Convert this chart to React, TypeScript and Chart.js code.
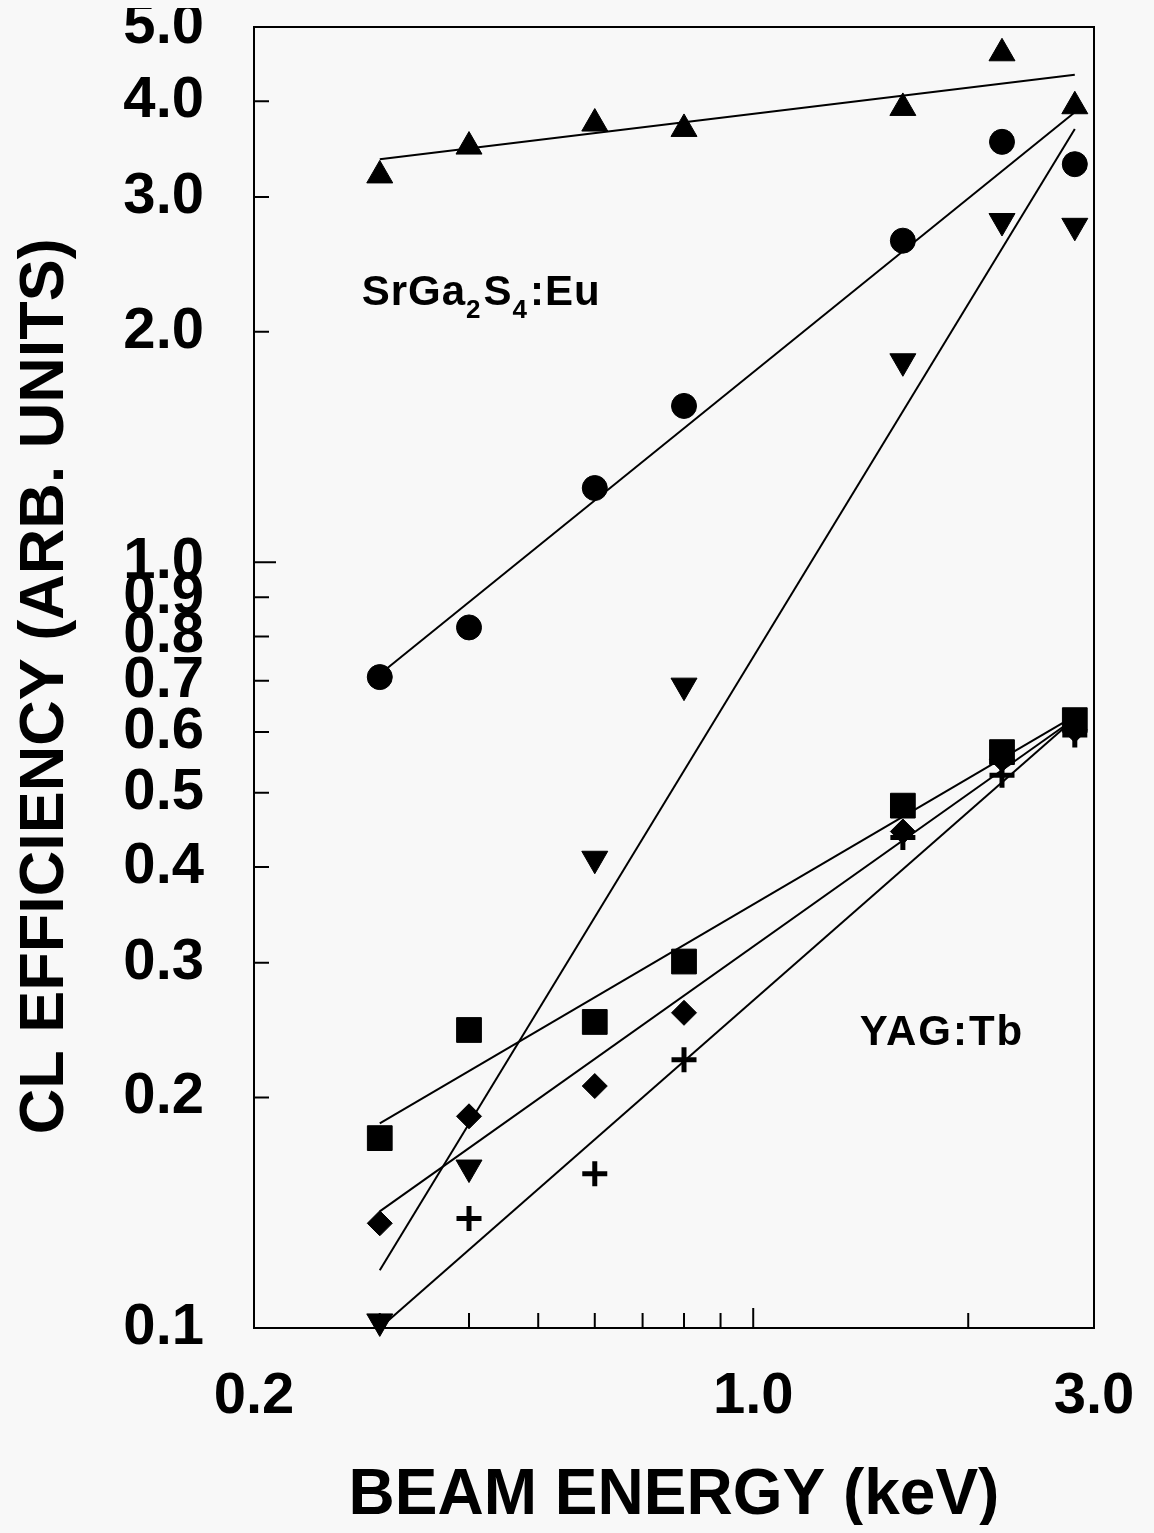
import React, { useEffect, useRef } from 'react';
import { Chart, registerables } from 'chart.js';

Chart.register(...registerables);

// Beam energies (keV)
const energies = [0.3, 0.4, 0.6, 0.8, 1.62, 2.23, 2.82];

// SrGa2S4:Eu series
const upTriangle = [3.2, 3.49, 3.74, 3.68, 3.92, 4.62, 3.94];
const circle = [0.708, 0.822, 1.25, 1.6, 2.63, 3.54, 3.31];
const downTriangle = [0.102, 0.162, 0.41, 0.69, 1.83, 2.79, 2.75];

// YAG:Tb series
const square = [0.177, 0.245, 0.251, 0.301, 0.481, 0.565, 0.622];
const diamond = [0.137, 0.189, 0.207, 0.258, 0.445, 0.553, 0.604];
const plus = [null, 0.139, 0.159, 0.224, 0.437, 0.527, 0.595];

// Fitted lines: values at the first and last energy
const fitX = [0.3, 2.82];
const upFit = [3.36, 4.33];
const circleFit = [0.714, 3.87];
const downFit = [0.119, 3.68];
const squareFit = [0.185, 0.63];
const diamondFit = [0.142, 0.625];
const plusFit = [0.1, 0.625];

// Axis ticks
const xTickLabels = [0.2, 1.0, 3.0];
const xTickMarks = [0.3, 0.4, 0.5, 0.6, 0.7, 0.8, 0.9, 1.0, 2.0];
const yTickLabels = [0.1, 0.2, 0.3, 0.4, 0.5, 0.6, 0.7, 0.8, 0.9, 1.0, 2.0, 3.0, 4.0, 5.0];
const yTickMarks = [0.2, 0.3, 0.4, 0.5, 0.6, 0.7, 0.8, 0.9, 1.0, 2.0, 3.0, 4.0];

// Annotation anchors (data coordinates, left / baseline)
const srLabelAnchor = { x: 0.283, y: 2.17 };
const yagLabelAnchor = { x: 1.41, y: 0.234 };

const FONT = "'Liberation Sans', Arial, Helvetica, sans-serif";
const BG = '#f8f8f8';

function pts(xs: number[], ys: (number | null)[]) {
  const out: { x: number; y: number }[] = [];
  xs.forEach((x, i) => {
    const y = ys[i];
    if (y !== null && y !== undefined) out.push({ x, y });
  });
  return out;
}

function pointSet(label: string, ys: (number | null)[], style: string, radius: number, extra: any = {}) {
  return {
    label,
    data: pts(energies, ys),
    showLine: false,
    pointStyle: style,
    pointRadius: radius,
    pointHoverRadius: radius,
    pointBackgroundColor: '#000',
    pointBorderColor: '#000',
    pointBorderWidth: 1,
    clip: false,
    ...extra,
  };
}

function fitSet(label: string, ys: number[]) {
  return {
    label,
    data: pts(fitX, ys),
    showLine: true,
    borderColor: '#000',
    borderWidth: 2,
    pointRadius: 0,
    pointHoverRadius: 0,
    fill: false,
    tension: 0,
  };
}

const framePlugin = {
  id: 'frame',
  beforeDraw(chart: any) {
    const { ctx, width, height } = chart;
    ctx.save();
    ctx.fillStyle = BG;
    ctx.fillRect(0, 0, width, height);
    ctx.restore();
  },
  beforeDatasetsDraw(chart: any) {
    const { ctx, chartArea, scales } = chart;
    const { left, right, top, bottom } = chartArea;
    ctx.save();
    ctx.strokeStyle = '#000';
    ctx.lineWidth = 2;
    ctx.strokeRect(left, top, right - left, bottom - top);
    ctx.beginPath();
    for (const v of xTickMarks) {
      const px = scales.x.getPixelForValue(v);
      const len = v === 1 ? 20 : 15;
      ctx.moveTo(px, bottom);
      ctx.lineTo(px, bottom - len);
    }
    for (const v of yTickMarks) {
      const py = scales.y.getPixelForValue(v);
      const len = v === 1 ? 22 : 15;
      ctx.moveTo(left, py);
      ctx.lineTo(left + len, py);
    }
    ctx.stroke();
    ctx.restore();
  },
  afterDatasetsDraw(chart: any) {
    const { ctx, scales } = chart;
    ctx.save();
    ctx.fillStyle = '#000';
    ctx.textBaseline = 'alphabetic';
    ctx.textAlign = 'left';
    (ctx as any).letterSpacing = '1px';
    const mainFont = `bold 42px ${FONT}`;
    const subFont = `bold 26px ${FONT}`;
    const parts = [
      { t: 'SrGa', sub: false },
      { t: '2', sub: true },
      { t: 'S', sub: false },
      { t: '4', sub: true },
      { t: ':Eu', sub: false },
    ];
    let x = scales.x.getPixelForValue(srLabelAnchor.x);
    const y = scales.y.getPixelForValue(srLabelAnchor.y);
    for (const p of parts) {
      ctx.font = p.sub ? subFont : mainFont;
      ctx.fillText(p.t, x, p.sub ? y + 13 : y);
      x += ctx.measureText(p.t).width + (p.sub ? 2 : 0);
    }
    (ctx as any).letterSpacing = '2px';
    ctx.font = mainFont;
    ctx.fillText(
      'YAG:Tb',
      scales.x.getPixelForValue(yagLabelAnchor.x),
      scales.y.getPixelForValue(yagLabelAnchor.y)
    );
    ctx.restore();
  },
};

const tickFont = { family: FONT, size: 58, weight: 'bold' as const, lineHeight: 1.2 };

function zeroPad(s: any) {
  s.paddingLeft = 0;
  s.paddingRight = 0;
  s.paddingTop = 0;
  s.paddingBottom = 0;
}

export default function App() {
  const ref = useRef<HTMLCanvasElement | null>(null);

  useEffect(() => {
    document.body.style.background = BG;
    const canvas = ref.current;
    if (!canvas) return;
    const chart = new Chart(canvas, {
      type: 'scatter',
      data: {
        datasets: [
          fitSet('fit up', upFit),
          fitSet('fit circle', circleFit),
          fitSet('fit down', downFit),
          fitSet('fit square', squareFit),
          fitSet('fit diamond', diamondFit),
          fitSet('fit plus', plusFit),
          pointSet('up triangle', upTriangle, 'triangle', 15),
          pointSet('circle', circle, 'circle', 12.5),
          pointSet('down triangle', downTriangle, 'triangle', 15, { pointRotation: 180 }),
          pointSet('square', square, 'rect', 17.5),
          pointSet('diamond', diamond, 'rectRot', 12.5),
          pointSet('plus', plus, 'cross', 12.5, { pointBorderWidth: 5 }),
        ] as any,
      },
      options: {
        responsive: false,
        animation: false,
        events: [],
        layout: { padding: { top: 27, right: 52, bottom: 0, left: 0 } },
        plugins: {
          legend: { display: false },
          tooltip: { enabled: false },
          title: { display: false },
        },
        scales: {
          x: {
            type: 'logarithmic',
            position: 'bottom',
            min: 0.2,
            max: 3.0,
            grid: { display: false },
            border: { display: false },
            afterBuildTicks: (s: any) => {
              s.ticks = xTickLabels.map((v) => ({ value: v }));
            },
            afterFit: (s: any) => {
              s.height = 197;
              zeroPad(s);
            },
            ticks: {
              autoSkip: false,
              maxRotation: 0,
              minRotation: 0,
              padding: 26,
              color: '#000',
              font: tickFont,
              callback: (v: any) => Number(v).toFixed(1),
            },
            title: {
              display: true,
              text: 'BEAM ENERGY (keV)',
              color: '#000',
              font: { family: FONT, size: 64, weight: 'bold', lineHeight: 0.8 },
              padding: { top: 0, bottom: 3 },
            },
          },
          y: {
            type: 'logarithmic',
            position: 'left',
            min: 0.1,
            max: 5.0,
            grid: { display: false },
            border: { display: false },
            afterBuildTicks: (s: any) => {
              s.ticks = yTickLabels.map((v) => ({ value: v }));
            },
            afterFit: (s: any) => {
              s.width = 246;
              zeroPad(s);
            },
            ticks: {
              autoSkip: false,
              padding: 42,
              color: '#000',
              font: tickFont,
              callback: (v: any) => Number(v).toFixed(1),
            },
            title: {
              display: true,
              text: 'CL EFFICIENCY (ARB. UNITS)\u00a0',
              color: '#000',
              font: { family: FONT, size: 63, weight: 'bold', lineHeight: 1 },
              padding: { top: 6, bottom: 0 },
            },
          },
        },
      } as any,
      plugins: [framePlugin],
    });
    return () => chart.destroy();
  }, []);

  return (
    <canvas
      ref={ref}
      width={1138}
      height={1525}
      style={{ display: 'block', width: 1138, height: 1525, marginTop: -8 }}
    />
  );
}
